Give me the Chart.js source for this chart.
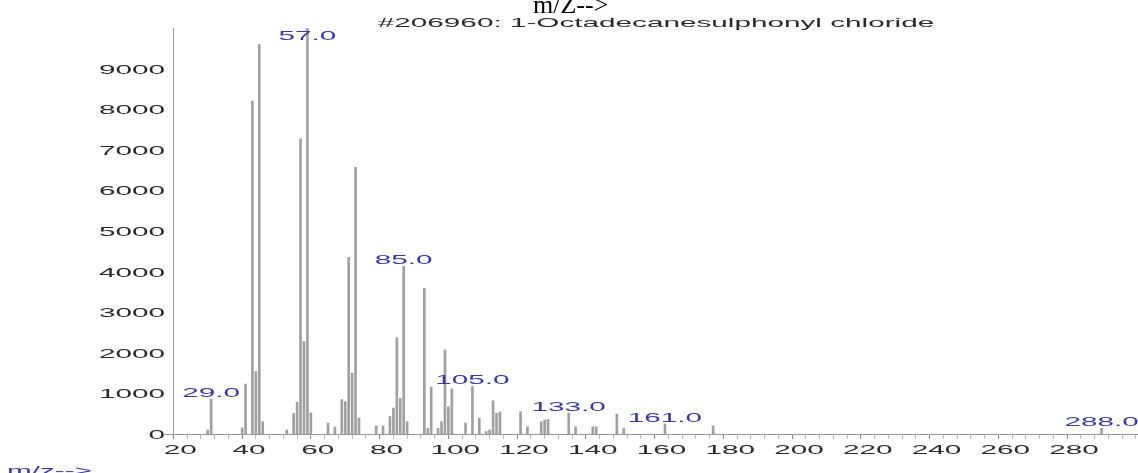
<!DOCTYPE html>
<html>
<head>
<meta charset="utf-8">
<title>1-Octadecanesulphonyl chloride</title>
<script src="https://cdn.jsdelivr.net/npm/chart.js@4.4.1/dist/chart.umd.min.js"></script>
<style>
  body { margin: 0; background: #fff; }
  #wrap { width: 1138px; height: 473px; }
</style>
</head>
<body>
<div id="wrap"><canvas id="spectrum" width="1138" height="473"></canvas></div>
<script>
// peaks
const mz = [28, 29, 38, 39, 41, 42, 43, 44,
  51, 53, 54, 55, 56, 57, 58,
  63, 65, 67, 68, 69, 70, 71, 72,
  77, 79, 81, 82, 83, 84, 85, 86,
  91, 92, 93, 95, 96, 97, 98, 99,
  103, 105, 107, 109, 110, 111, 112, 113,
  119, 121, 125, 126, 127,
  133, 135, 140, 141, 147, 149,
  161, 175, 288];
const abundance = [100, 860, 150, 1230, 8200, 1540, 9590, 300,
  100, 510, 780, 7270, 2280, 10000, 520,
  270, 170, 850, 800, 4350, 1500, 6570, 390,
  200, 200, 430, 640, 2370, 880, 4130, 300,
  3590, 140, 1160, 140, 300, 2070, 670, 1110,
  270, 1170, 390, 60, 100, 820, 510, 540,
  550, 180, 300, 345, 360,
  510, 180, 180, 180, 490, 140,
  250, 200, 140];
const labeledPeaks = [29, 57, 85, 105, 133, 161, 288];
const yTickLabels = ['0', '1000', '2000', '3000', '4000', '5000', '6000', '7000', '8000', '9000'];
const titleText = '#206960: 1-Octadecanesulphonyl chloride';
const axisTitle = 'm/z-->';

const FONT = '13.5px "Liberation Sans", Arial, sans-serif';
const STRETCH = 2.2;

function stretchedText(ctx, text, x, y, align, color) {
  ctx.save();
  ctx.translate(x, y);
  ctx.scale(STRETCH, 1);
  ctx.font = FONT;
  ctx.fillStyle = color;
  ctx.textAlign = align;
  ctx.textBaseline = 'alphabetic';
  ctx.fillText(text, 0, 0);
  ctx.restore();
}

// tick labels, peak labels and titles, drawn with the wide look of the original
const textPlugin = {
  id: 'spectrumText',
  afterDraw(chart) {
    const ctx = chart.ctx;
    const xs = chart.scales.x;
    const ys = chart.scales.y;

    yTickLabels.forEach(t => {
      const y = ys.getPixelForValue(Number(t));
      stretchedText(ctx, t, 165, y + 5, 'right', '#2a2a2a');
    });

    xs.ticks.forEach(t => {
      if (t.value % 20 === 0) {
        stretchedText(ctx, String(t.value), xs.getPixelForValue(t.value), 453.5, 'center', '#2a2a2a');
      }
    });

    labeledPeaks.forEach(m => {
      const i = mz.indexOf(m);
      const x = xs.getPixelForValue(m);
      const top = ys.getPixelForValue(abundance[i]);
      stretchedText(ctx, m.toFixed(1), x, Math.max(top - 2, 40), 'center', '#3838a8');
    });

    stretchedText(ctx, titleText, 656, 27, 'center', '#2a2a2a');
    stretchedText(ctx, axisTitle, 7, 475, 'left', '#3838a8');

    ctx.save();
    ctx.font = '26px "Liberation Serif", "Times New Roman", serif';
    ctx.fillStyle = '#000';
    ctx.textAlign = 'left';
    ctx.fillText('m/Z-->', 533, 13);
    ctx.restore();

    // x axis runs a little past the y axis, like the original
    ctx.save();
    ctx.strokeStyle = '#999';
    ctx.lineWidth = 1;
    ctx.beginPath();
    ctx.moveTo(163, ys.getPixelForValue(0) + 0.5);
    ctx.lineTo(xs.left, ys.getPixelForValue(0) + 0.5);
    ctx.stroke();
    ctx.restore();
  }
};

new Chart(document.getElementById('spectrum'), {
  type: 'bar',
  data: {
    datasets: [{
      data: mz.map((m, i) => ({ x: m, y: abundance[i] })),
      backgroundColor: '#a0a0a0',
      barThickness: 2
    }]
  },
  options: {
    responsive: false,
    animation: false,
    layout: { padding: { left: 173, right: 1, top: 28, bottom: 33 } },
    plugins: { legend: { display: false }, tooltip: { enabled: false } },
    scales: {
      x: {
        type: 'linear',
        min: 17.9,
        max: 298.3,
        offset: false,
        afterBuildTicks: s => {
          const ticks = [];
          for (let v = 20; v <= 296; v += 4) ticks.push({ value: v });
          s.ticks = ticks;
        },
        afterFit: s => { s.height = 6; },
        ticks: { display: false },
        grid: {
          drawOnChartArea: false,
          drawTicks: true,
          tickLength: 5,
          color: ctx => (ctx.tick && ctx.tick.value % 20 === 0) ? '#888' : '#bbb'
        },
        border: { display: true, color: '#999', width: 1 }
      },
      y: {
        min: 0,
        max: 10000,
        afterFit: s => { s.width = 0; },
        ticks: { display: false, stepSize: 1000 },
        grid: { display: false, drawTicks: false },
        border: { display: true, color: '#999', width: 1 }
      }
    }
  },
  plugins: [textPlugin]
});
</script>
</body>
</html>
